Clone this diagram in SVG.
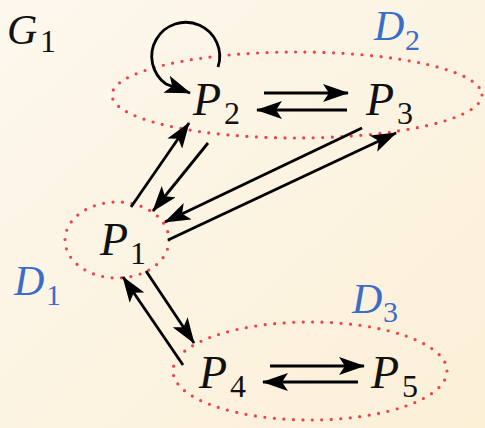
<svg xmlns="http://www.w3.org/2000/svg" width="485" height="428" viewBox="0 0 485 428">
<defs>
<linearGradient id="bg" x1="0" y1="0" x2="1" y2="1">
<stop offset="0" stop-color="#fdf8ee"/>
<stop offset="1" stop-color="#fbefd6"/>
</linearGradient>
<marker id="ah" viewBox="0 0 26 18" refX="25" refY="9" markerWidth="26" markerHeight="18" markerUnits="userSpaceOnUse" orient="auto">
<path d="M0,0 L26,9 L0,18 L6,9 Z" fill="#000"/>
</marker>
</defs>
<style>
.dom{fill:none;stroke:#f0404a;stroke-width:3.2;stroke-linecap:round;stroke-dasharray:0 9.5}
.arr{fill:none;stroke:#000;stroke-width:2.8;marker-end:url(#ah)}
.p{font-style:italic;font-size:46px;fill:#111}
.s{font-size:32px;fill:#111}
.d{font-style:italic;font-size:42px;fill:#3b6cc8}
.ds{font-size:30px;fill:#3b6cc8}
</style>
<rect width="485" height="428" fill="url(#bg)"/>
<g font-family="Liberation Serif, Times New Roman, serif">
<g id="title"><text x="7" y="44" class="p" style="font-size:42px">G</text><text x="40" y="52" class="s">1</text></g>
<g id="D1"><ellipse cx="117" cy="240" rx="52" ry="38" class="dom"/><text x="14" y="295" class="d">D</text><text x="46" y="305" class="ds">1</text></g>
<g id="D2"><ellipse cx="297" cy="95" rx="185" ry="43" class="dom"/><text x="374" y="40" class="d">D</text><text x="405" y="50" class="ds">2</text></g>
<g id="D3"><ellipse cx="310" cy="371" rx="137" ry="49" class="dom"/><text x="352" y="313" class="d">D</text><text x="383" y="322" class="ds">3</text></g>
<g id="P1"><text x="100" y="255" class="p">P</text><text x="130" y="264" class="s">1</text></g>
<g id="P2"><text x="193" y="115" class="p">P</text><text x="224" y="124" class="s">2</text></g>
<g id="P3"><text x="366" y="115" class="p">P</text><text x="397" y="124" class="s">3</text></g>
<g id="P4"><text x="199" y="388" class="p">P</text><text x="230" y="397" class="s">4</text></g>
<g id="P5"><text x="371" y="388" class="p">P</text><text x="402" y="397" class="s">5</text></g>
</g>
<g id="connectors">
<path class="arr" d="M218,67 A34,34 0 1 0 166,84 L190,93"/>
<path class="arr" d="M264,93 L348,93"/>
<path class="arr" d="M347,110 L257,110"/>
<path class="arr" d="M168,240 L396,133"/>
<path class="arr" d="M362,128 L165,222"/>
<path class="arr" d="M131,207 L189,123"/>
<path class="arr" d="M208,143 L153,211"/>
<path class="arr" d="M146,271 L194,343"/>
<path class="arr" d="M183,365 L123,277"/>
<path class="arr" d="M270,366 L364,366"/>
<path class="arr" d="M358,382 L263,382"/>
</g>
</svg>
